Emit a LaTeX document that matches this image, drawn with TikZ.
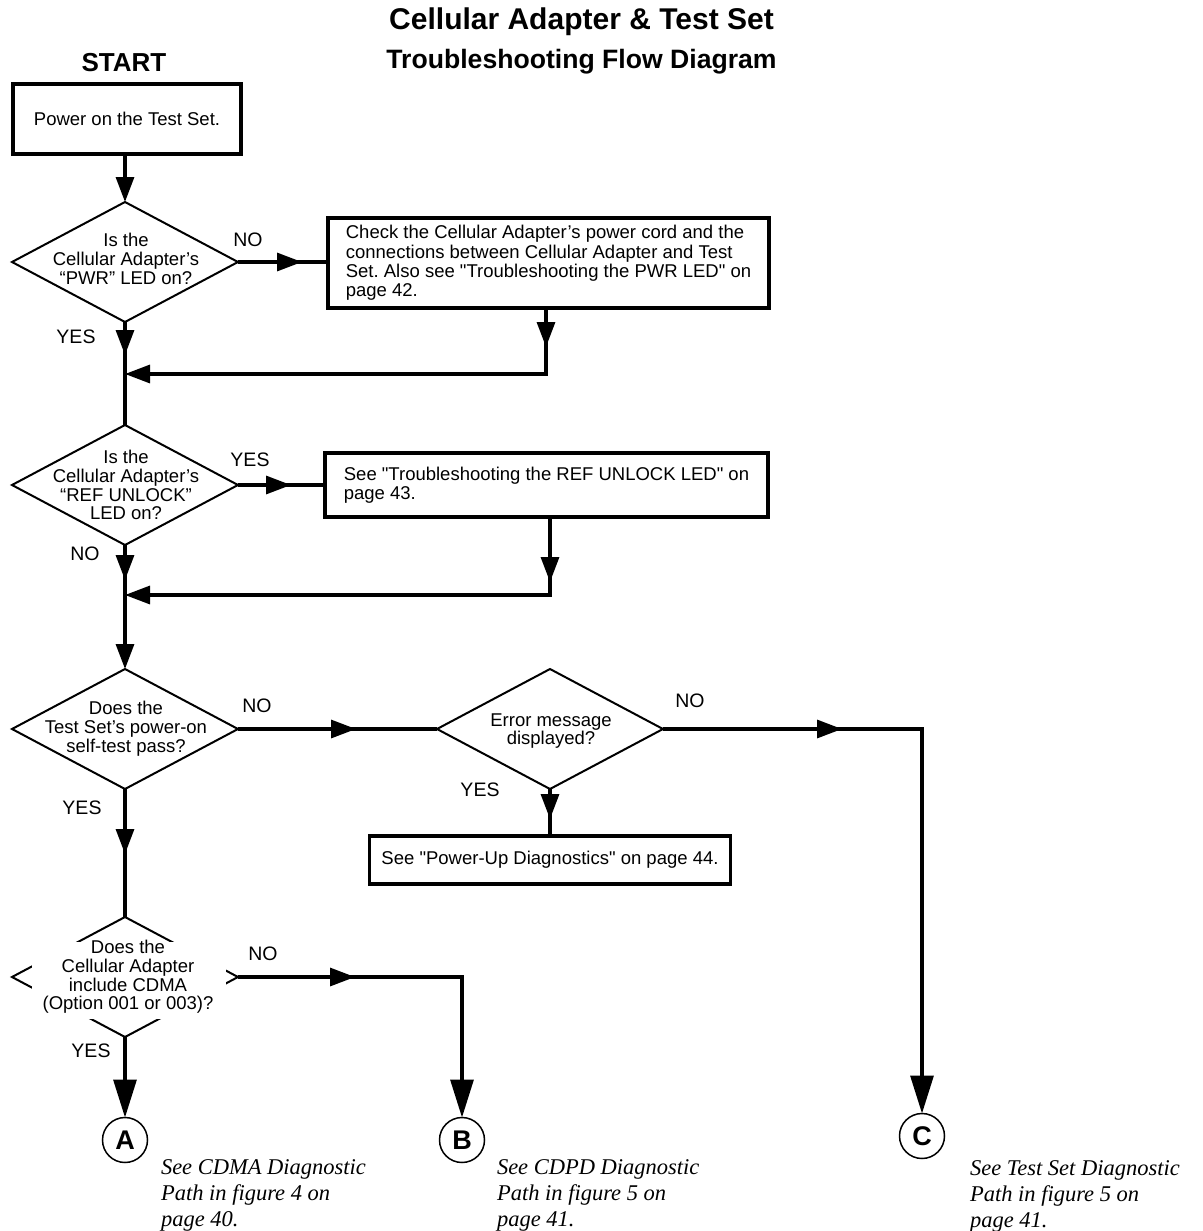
\documentclass[tikz,border=0pt]{standalone}
\usepackage{fontspec}
\setmainfont{Liberation Sans}
\newfontfamily\serifcap{Liberation Serif}
\usetikzlibrary{shapes.geometric,arrows.meta,decorations.markings}
\newcommand{\qq}{\textquotedbl}
\frenchspacing
\begin{document}
\begin{tikzpicture}[x=1pt,y=-1pt,
  every node/.style={inner sep=0pt, outer sep=0pt},
  body/.style={font=\fontsize{18.5}{19.3}\selectfont},
  diabody/.style={font=\fontsize{18.5}{18.8}\selectfont, align=center},
  lbl/.style={font=\fontsize{19.5}{20}\selectfont},
  dia/.style={draw, diamond, line width=2pt, minimum width=226pt, minimum height=120pt},
  boxn/.style={draw, rectangle, line width=3.2pt, body},
  ln/.style={line width=3.2pt},
  sm/.tip={Triangle[length=25pt,width=18pt]},
  lg/.tip={Triangle[length=38pt,width=23pt]},
  midtip/.style={postaction={decorate}, decoration={markings, mark=at position #1 with {\arrow{sm}}}},
  circ/.style={draw, circle, line width=1.5pt, minimum size=45pt, font=\fontsize{27}{27}\selectfont\bfseries},
  capt/.style={font=\serifcap\itshape\fontsize{22.5}{26}\selectfont, align=left, anchor=north west}
]
\fill[white] (0,0) rectangle (1202,1231);
\useasboundingbox (0,0) rectangle (1202,1231);

% titles
\node[font=\fontsize{30}{30}\selectfont\bfseries, anchor=base] (title) at (581.5,30) {Cellular Adapter \& Test Set};
\node[font=\fontsize{26.6}{27}\selectfont\bfseries, anchor=base] (sub) at (581.5,68) {Troubleshooting Flow Diagram};
\node[font=\fontsize{26}{26}\selectfont\bfseries, anchor=base] (start) at (124,71) {START};

% first box
\node[boxn, minimum width=228pt, minimum height=70pt] (b1) at (127,119) {Power on the Test Set.};

% diamond 1
\node[dia] (d1) at (125,262) {};
\node[diabody] (d1t) at (126,259) {Is the\\Cellular Adapter’s\\“PWR” LED on?};
\node[boxn, align=left, minimum width=441pt, minimum height=90pt] (b2) at (548.5,263) {Check the Cellular Adapter’s power cord and the\\connections between Cellular Adapter and Test\\Set. Also see \qq Troubleshooting the PWR LED\qq{} on\\page 42.};
\coordinate (j1) at (125,374);

% diamond 2
\node[dia] (d2) at (125,485) {};
\node[diabody] (d2t) at (126,485) {Is the\\Cellular Adapter’s\\“REF UNLOCK”\\LED on?};
\node[boxn, align=left, minimum width=443pt, minimum height=64pt] (b3) at (546.5,485) {See \qq Troubleshooting the REF UNLOCK LED\qq{} on\\page 43.};
\coordinate (j2) at (125,595);

% diamond 3 and 4
\node[dia] (d3) at (125,729) {};
\node[diabody] (d3t) at (126,729) {Does the\\Test Set’s power-on\\self-test pass?};
\node[dia] (d4) at (550,729) {};
\node[diabody] (d4t) at (551,731) {Error message\\displayed?};
\node[boxn, minimum width=361pt, minimum height=48pt] (b5) at (550,860) {See \qq Power-Up Diagnostics\qq{} on page 44.};

% diamond 5 (partly masked by its text)
\node[dia] (d5) at (125,977) {};
\node[fill=white, minimum width=194pt, minimum height=77pt] (d5m) at (129,980.5) {};
\node[diabody] (d5t) at (128,977) {Does the\\Cellular Adapter\\include CDMA\\(Option 001 or 003)?};

% circles
\node[circ] (A) at (125,1140) {A};
\node[circ] (B) at (462,1140) {B};
\node[circ] (C) at (922,1136) {C};

% captions
\node[capt] (ca) at (161,1159.5) {See CDMA Diagnostic\\Path in figure 4 on\\page 40.};
\node[capt] (cb) at (497,1159.5) {See CDPD Diagnostic\\Path in figure 5 on\\page 41.};
\node[capt] (cc) at (970,1161) {See Test Set Diagnostic\\Path in figure 5 on\\page 41.};

% labels
\node[lbl] (n1) at (248,240) {NO};
\node[lbl] (y1) at (76,337) {YES};
\node[lbl] (y2) at (250,460) {YES};
\node[lbl] (n2) at (85,554) {NO};
\node[lbl] (n3) at (257,706) {NO};
\node[lbl] (n4) at (690,701) {NO};
\node[lbl] (y4) at (480,790) {YES};
\node[lbl] (y3) at (82,808) {YES};
\node[lbl] (n5) at (263,954) {NO};
\node[lbl] (y5) at (91,1051) {YES};

% connectors
\draw[ln,-sm] (b1.south -| d1.north) -- (d1.north);
\draw[ln, midtip=64pt] (d1.east) -- (d1.east -| b2.west);
\draw[ln, midtip=39pt, -sm] ([xshift=-2.5pt]b2.south) |- (j1);
\draw[ln, midtip=33pt] (d1.south) -- (d2.north);
\draw[ln, midtip=53pt] (d2.east) -- (d2.east -| b3.west);
\draw[ln, midtip=65pt, -sm] ([xshift=3.5pt]b3.south) |- (j2);
\draw[ln, midtip=35pt, -sm] (d2.south) -- (d3.north);
\draw[ln, midtip=118pt] (d3.east) -- (d4.west);
\draw[ln, midtip=30pt] (d4.south) -- (b5.north);
\draw[ln, midtip=179pt, -lg] (d4.east) -| (C.north);
\draw[ln, midtip=65pt] (d3.south) -- (d5.north);
\draw[ln, midtip=117pt, -lg] (d5.east) -| (B.north);
\draw[ln, -lg] (d5.south) -- (A.north);
\end{tikzpicture}
\end{document}
